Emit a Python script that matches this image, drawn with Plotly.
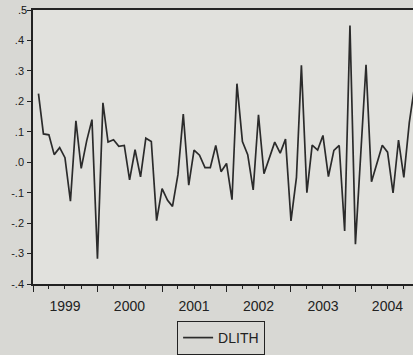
import pandas as pd
import plotly.graph_objects as go

# DLITH monthly values (first observation 1999M02)
dlith = [0.225, 0.093, 0.090, 0.025, 0.048, 0.015, -0.128, 0.136, -0.020, 0.070,
         0.140, -0.317, 0.195, 0.066, 0.074, 0.052, 0.055, -0.058, 0.041, -0.048,
         0.079, 0.068, -0.192, -0.087, -0.125, -0.145, -0.040, 0.158, -0.075, 0.040,
         0.023, -0.018, -0.018, 0.055, -0.031, -0.004, -0.123, 0.258, 0.068, 0.025,
         -0.091, 0.156, -0.038, 0.017, 0.066, 0.030, 0.076, -0.193, -0.050, 0.318,
         -0.100, 0.056, 0.040, 0.088, -0.047, 0.039, 0.055, -0.226, 0.449, -0.269,
         0.020, 0.320, -0.064, -0.005, 0.056, 0.033, -0.101, 0.073, -0.050, 0.130,
         0.250]
months = pd.date_range("1999-02-01", periods=len(dlith), freq="MS")

year_ticks = ["1999-01-01", "2000-01-01", "2001-01-01", "2002-01-01", "2003-01-01", "2004-01-01"]
year_labels = ["1999", "2000", "2001", "2002", "2003", "2004"]
y_ticks = [0.5, 0.4, 0.3, 0.2, 0.1, 0.0, -0.1, -0.2, -0.3, -0.4]
y_labels = [".5", ".4", ".3", ".2", ".1", ".0", "-.1", "-.2", "-.3", "-.4"]

fig = go.Figure()
fig.add_trace(go.Scatter(x=months, y=dlith, mode="lines", name="DLITH",
                         line=dict(color="#2b2b2b", width=1.7)))

# the top tick label is written separately as an annotation so it is not hidden at the page edge
axis_text = [""] + y_labels[1:]

fig.update_layout(
    width=413, height=355,
    margin=dict(l=33, r=0, t=10, b=68),
    paper_bgcolor="#d8d8d4",
    plot_bgcolor="#e1e1dd",
    font=dict(family="Liberation Sans, Arial, sans-serif", color="#222222"),
    showlegend=True,
    legend=dict(orientation="h", x=0.495, xanchor="center", y=-0.135, yanchor="top",
                bordercolor="#222222", borderwidth=1, bgcolor="#d8d8d4",
                font=dict(size=14)),
    xaxis=dict(range=["1999-01-01", "2004-11-22"], tickmode="array",
               tickvals=year_ticks, ticktext=year_labels, ticklabelshift=32,
               ticks="outside", ticklen=6, tickwidth=1.3, tickcolor="#222222",
               minor=dict(dtick="M3", tick0="1999-01-01", ticks="outside", ticklen=3,
                          tickwidth=1.2, tickcolor="#222222"),
               showgrid=False, zeroline=False, showline=True, linecolor="#222222",
               linewidth=1.5, mirror=True, tickfont=dict(size=14),
               ticklabelstandoff=2),
    yaxis=dict(range=[-0.4, 0.5], tickmode="array", tickvals=y_ticks, ticktext=axis_text,
               ticks="outside", ticklen=4, tickwidth=1.3, tickcolor="#222222",
               showgrid=False, zeroline=False, showline=True, linecolor="#222222",
               linewidth=1.5, tickfont=dict(size=11, color="#222222"), ticklabelstandoff=1),
)

fig.add_annotation(x=0, xref="paper", y=1, yref="paper", text=y_labels[0],
                   showarrow=False, xanchor="right", yanchor="middle", xshift=-5,
                   borderpad=0, font=dict(size=11, color="#111111"))

fig.write_html("out.html")
